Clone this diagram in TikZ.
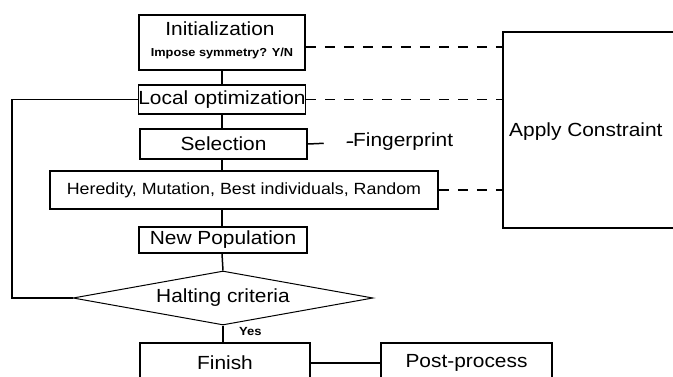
\documentclass[tikz,border=0pt]{standalone}
\usepackage{fontspec}
\setmainfont{Liberation Sans}[FakeStretch=1.1]
\usetikzlibrary{shapes.geometric}
\begin{document}
\begin{tikzpicture}[x=1pt,y=-1pt,
  box/.style={draw,line width=1.5pt,rectangle,inner sep=0pt,font=\fontsize{19}{21}\selectfont},
  dashline/.style={line width=1.5pt,dash pattern=on 10pt off 9pt},
  solidline/.style={line width=1.5pt}]
\clip (0,0) rectangle (673,376);
\fill[white] (0,0) rectangle (673,376);
% boxes
\node[box,minimum width=166pt,minimum height=55pt] (init) at (222,42.5) {};
\node[font=\fontsize{19}{21}\selectfont] (inittext) at (220,29) {Initialization};
\node[font=\fontsize{11.6}{13}\selectfont\bfseries] (imp) at (222,53) {Impose symmetry? Y/N};
\node[box,minimum width=166pt,minimum height=29pt] (loc) at (222,99.5) {Local optimization};
\node[box,minimum width=167pt,minimum height=30pt] (sel) at (223.5,144) {Selection};
\node[box,minimum width=388pt,minimum height=38pt,font=\fontsize{16.2}{18}\selectfont] (her) at (244,190) {Heredity, Mutation, Best individuals, Random};
\node[box,minimum width=168pt,minimum height=26pt] (np) at (223,240) {New Population};
\node[draw,diamond,line width=1pt,inner sep=0pt,minimum width=300pt,minimum height=54pt,aspect=5.5,font=\fontsize{19}{21}\selectfont] (hc) at (223,298) {Halting criteria};
\node[box,minimum width=170pt,minimum height=40pt] (fin) at (225,363) {Finish};
\node[box,minimum width=171pt,minimum height=40pt] (pp) at (466.5,363) {Post-process};
\node[box,minimum width=200pt,minimum height=196pt] (ac) at (603,130) {};
\node[anchor=west,inner sep=0pt,font=\fontsize{19}{21}\selectfont] (actext) at (509,132) {Apply Constraint};
\node[anchor=west,inner sep=0pt,font=\fontsize{19}{21}\selectfont] (fp) at (353,142) {Fingerprint};
\node[anchor=west,inner sep=0pt,font=\fontsize{11.8}{13}\selectfont\bfseries] (yes) at (239,331) {Yes};
\coordinate (lb) at (12,298);
% main flow
\draw[solidline] (init.south) -- (loc.north);
\draw[solidline] (loc.south) -- (loc.south |- sel.north);
\draw[solidline] (loc.south |- sel.south) -- (loc.south |- her.north);
\draw[solidline] (loc.south |- her.south) -- (loc.south |- np.north);
\draw[solidline] (loc.south |- np.south) -- (hc.north);
\draw[solidline] (hc.south) -- (hc.south |- fin.north);
\draw[solidline] (fin.east) -- (pp.west);
% loop back
\draw[solidline] (loc.west) -- (loc.west -| lb) -- (lb) -- (hc.west);
% dashed links to constraint
\draw[dashline] (init.east |- 0,47) -- (ac.west |- 0,47);
\draw[dashline] (loc.east) -- (loc.east -| ac.west);
\draw[dashline] (her.east) -- (her.east -| ac.west);
\draw[line width=1.5pt,dash pattern=on 16pt off 23pt on 7pt off 10pt] (sel.east) -- (fp.west);
\end{tikzpicture}
\end{document}
